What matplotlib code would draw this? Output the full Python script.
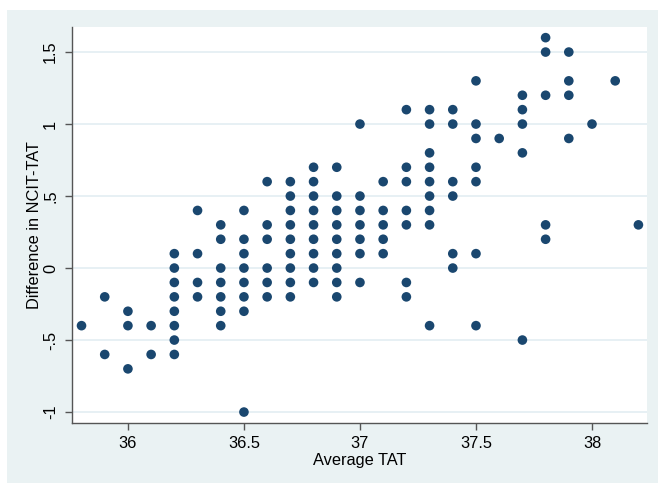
import numpy as np
import matplotlib
matplotlib.use("Agg")
import matplotlib.pyplot as plt
from matplotlib.patches import Rectangle

plt.rcParams['font.family'] = ['Liberation Sans', 'DejaVu Sans']

# average TAT (x) and the NCIT-TAT differences seen at each x
avg_tat = [35.8, 35.9, 36.0, 36.1, 36.2, 36.3, 36.4, 36.5, 36.6, 36.7,
           36.8, 36.9, 37.0, 37.1, 37.2, 37.3, 37.4, 37.5, 37.6, 37.7,
           37.8, 37.9, 38.0, 38.1, 38.2]
diffs = [
    [-0.4],
    [-0.2, -0.6],
    [-0.3, -0.4, -0.7],
    [-0.4, -0.6],
    [0.1, 0, -0.1, -0.2, -0.3, -0.4, -0.5, -0.6],
    [0.4, 0.1, -0.1, -0.2],
    [0.3, 0.2, 0, -0.1, -0.2, -0.3, -0.4],
    [0.4, 0.2, 0.1, 0, -0.1, -0.2, -0.3, -1.0],
    [0.6, 0.3, 0.2, 0, -0.1, -0.2],
    [0.6, 0.5, 0.4, 0.3, 0.2, 0.1, 0, -0.1, -0.2],
    [0.7, 0.6, 0.5, 0.4, 0.3, 0.2, 0.1, 0, -0.1],
    [0.7, 0.5, 0.4, 0.3, 0.2, 0.1, 0, -0.1, -0.2],
    [1.0, 0.5, 0.4, 0.3, 0.2, 0.1, -0.1],
    [0.6, 0.4, 0.3, 0.2, 0.1],
    [1.1, 0.7, 0.6, 0.4, 0.3, -0.1, -0.2],
    [1.1, 1.0, 0.8, 0.7, 0.6, 0.5, 0.4, 0.3, -0.4],
    [1.1, 1.0, 0.6, 0.5, 0.1, 0],
    [1.3, 1.0, 0.9, 0.7, 0.6, 0.1, -0.4],
    [0.9],
    [1.2, 1.1, 1.0, 0.8, -0.5],
    [1.6, 1.5, 1.2, 0.3, 0.2],
    [1.5, 1.3, 1.2, 0.9],
    [1.0],
    [1.3],
    [0.3],
]

x_ticks = [36, 36.5, 37, 37.5, 38]
x_ticklabels = ["36", "36.5", "37", "37.5", "38"]
y_ticks = [-1, -0.5, 0, 0.5, 1, 1.5]
y_ticklabels = ["-1", "-.5", "0", ".5", "1", "1.5"]

xs = np.concatenate([[x] * len(d) for x, d in zip(avg_tat, diffs)])
ys = np.concatenate(diffs)

fig = plt.figure(figsize=(6.58, 4.83), dpi=100)
fig.patch.set_facecolor('white')
# stata-like outer panel, kept behind the axes
fig.patches.append(Rectangle((7 / 658, 0), 1 - 7 / 658, 1 - 10 / 483,
                             transform=fig.transFigure, facecolor='#eaf2f3',
                             edgecolor='none', zorder=-10))

ax = fig.add_axes([72 / 658, 60 / 483, 575 / 658, 396 / 483])
ax.set_zorder(1)
ax.set_facecolor('white')
ax.scatter(xs, ys, s=48, color='#1a476f', edgecolors='none', zorder=3)

ax.set_xlim(35.759, 38.237)
ax.set_ylim(-1.076, 1.674)
ax.set_xticks(x_ticks)
ax.set_xticklabels(x_ticklabels)
ax.set_yticks(y_ticks)
ax.set_yticklabels(y_ticklabels, rotation=90, va='center')
ax.grid(axis='y', color='#e3eef2', linewidth=1.2, zorder=0)

for side in ['top', 'right']:
    ax.spines[side].set_visible(False)
for side in ['left', 'bottom']:
    ax.spines[side].set_color('#555555')
    ax.spines[side].set_linewidth(1.0)

ax.tick_params(axis='both', colors='#555555', labelcolor='black',
               labelsize=11.8, length=5, width=1)
ax.tick_params(axis='y', pad=5)
ax.tick_params(axis='x', pad=4)

ax.set_xlabel('Average TAT', fontsize=11.8, labelpad=1.5)
ax.set_ylabel('Difference in NCIT-TAT', fontsize=11.8, labelpad=1)

fig.savefig('out.png', dpi=100)
